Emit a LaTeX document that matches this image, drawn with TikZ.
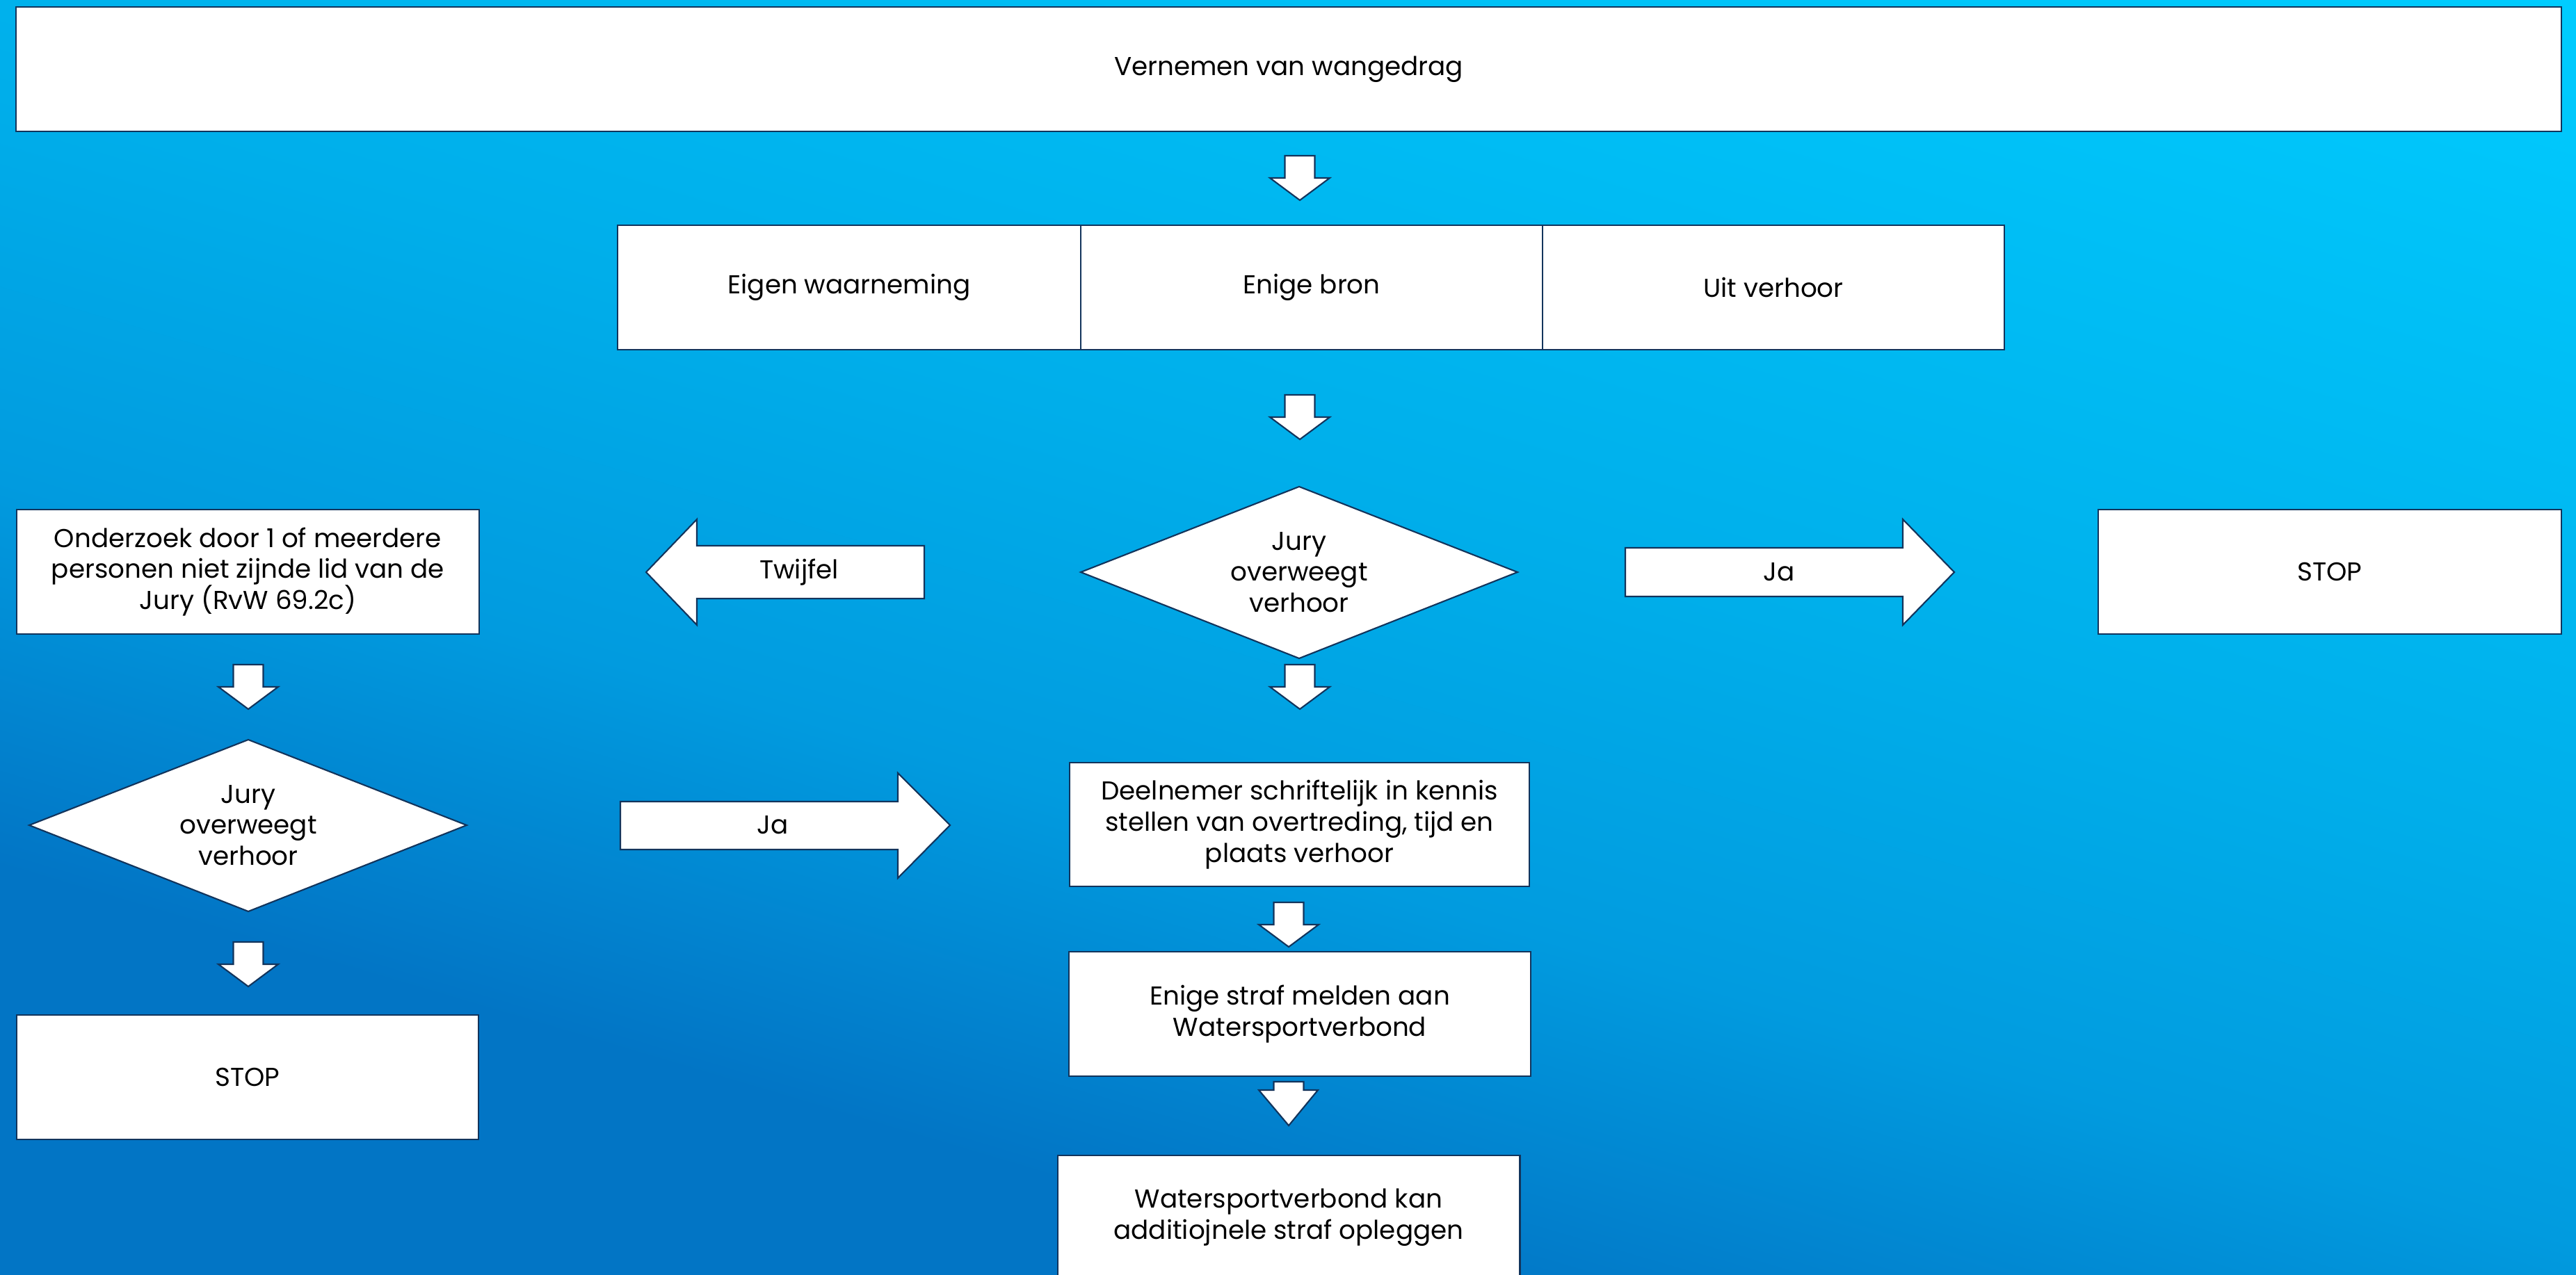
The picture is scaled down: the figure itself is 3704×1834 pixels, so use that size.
\documentclass[tikz,border=0pt]{standalone}
\usepackage{fontspec}
\setmainfont{Poppins}
\definecolor{bgA}{HTML}{0275C5}
\definecolor{bgB}{HTML}{019BDF}
\definecolor{bgC}{HTML}{00AEEA}
\definecolor{bgD}{HTML}{00CCFF}
\definecolor{edge}{HTML}{12345C}
\pgfdeclarehorizontalshading{bgshade}{100bp}{color(0bp)=(bgA); color(25bp)=(bgA); color(35bp)=(bgA); color(44.5bp)=(bgB); color(54bp)=(bgC); color(75bp)=(bgD); color(100bp)=(bgD)}
\newcommand{\txtfont}{\fontsize{10.6}{12.7}\selectfont}
\begin{document}
\begin{tikzpicture}[x=0.01cm,y=-0.01cm,
  shp/.style={fill=white,draw=edge,line width=0.6pt,line join=miter},
  box/.style={shp,rectangle,inner sep=0pt,align=center,font=\txtfont,text=black},
  lbl/.style={inner sep=0pt,align=center,font=\txtfont,text=black},
  dnarr/.pic={\filldraw[shp] (-21.5,0) -- (21.5,0) -- (21.5,32) -- (43,32) -- (0,64) -- (-43,32) -- (-21.5,32) -- cycle;}]
\useasboundingbox (0,0) rectangle (3704,1834);
% background
\begin{scope}
\clip (0,0) rectangle (3704,1834);
\begin{scope}[transform canvas={shift={(0,1834)},rotate=73.5}]
\shade[shading=bgshade] (0cm,-37cm) rectangle (28.11cm,7cm);
\end{scope}
\end{scope}
\begin{scope}
\clip (0,0) rectangle (3704,1834);
% top
\node[box,minimum width=36.58cm,minimum height=1.79cm] (top) at (1853,99.5) {Vernemen van wangedrag};
\pic at (1869,224) {dnarr};
% row 2
\node[box,minimum width=6.66cm,minimum height=1.79cm] (eigen) at (1221,413.5) {Eigen waarneming};
\node[box,minimum width=6.64cm,minimum height=1.79cm] (bron) at (1886,413.5) {Enige bron};
\node[box,minimum width=6.64cm,minimum height=1.79cm] (uit) at (2550,413.5) {Uit verhoor};
\pic at (1869,568) {dnarr};
% central diamond
\filldraw[shp] (1554,823) -- (1868,700) -- (2182,823) -- (1868,947) -- cycle;
\node[lbl] (jury1) at (1868,823) {Jury\\overweegt\\verhoor};
% Twijfel arrow
\filldraw[shp] (929,823) -- (1002,747) -- (1002,785) -- (1329,785) -- (1329,861) -- (1002,861) -- (1002,899) -- cycle;
\node[lbl] (twijfel) at (1149,823) {Twijfel};
% right Ja arrow
\filldraw[shp] (2810,823) -- (2736,747) -- (2736,788) -- (2337,788) -- (2337,858) -- (2736,858) -- (2736,899) -- cycle;
\node[lbl] (ja1) at (2558,823) {Ja};
\node[box,minimum width=6.66cm,minimum height=1.79cm] (stop1) at (3350,822.5) {STOP};
% left column
\node[box,minimum width=6.65cm,minimum height=1.79cm] (onderzoek) at (356.5,822.5) {Onderzoek door 1 of meerdere\\personen niet zijnde lid van de\\Jury (RvW 69.2c)};
\pic at (357,956) {dnarr};
\filldraw[shp] (42,1187) -- (357,1064) -- (671,1187) -- (357,1311) -- cycle;
\node[lbl] (jury2) at (357,1187) {Jury\\overweegt\\verhoor};
\pic at (357,1355) {dnarr};
\node[box,minimum width=6.64cm,minimum height=1.79cm] (stop2) at (356,1549.5) {STOP};
% left Ja arrow
\filldraw[shp] (1366,1187) -- (1291,1112) -- (1291,1153) -- (892,1153) -- (892,1222) -- (1291,1222) -- (1291,1263) -- cycle;
\node[lbl] (ja2) at (1111,1187) {Ja};
% centre column
\pic at (1869,956) {dnarr};
\node[box,minimum width=6.61cm,minimum height=1.78cm] (deel) at (1868.5,1186) {Deelnemer schriftelijk in kennis\\stellen van overtreding, tijd en\\plaats verhoor};
\pic at (1853,1298) {dnarr};
\node[box,minimum width=6.64cm,minimum height=1.79cm] (straf) at (1869,1458.5) {Enige straf melden aan\\Watersportverbond};
\filldraw[shp] (1831.5,1556) -- (1874.5,1556) -- (1874.5,1568) -- (1895,1568) -- (1853,1619) -- (1810,1568) -- (1831.5,1568) -- cycle;
\node[box,minimum width=6.645cm,minimum height=1.78cm] (kan) at (1853,1751) {Watersportverbond kan\\additiojnele straf opleggen};
\end{scope}
\end{tikzpicture}
\end{document}
